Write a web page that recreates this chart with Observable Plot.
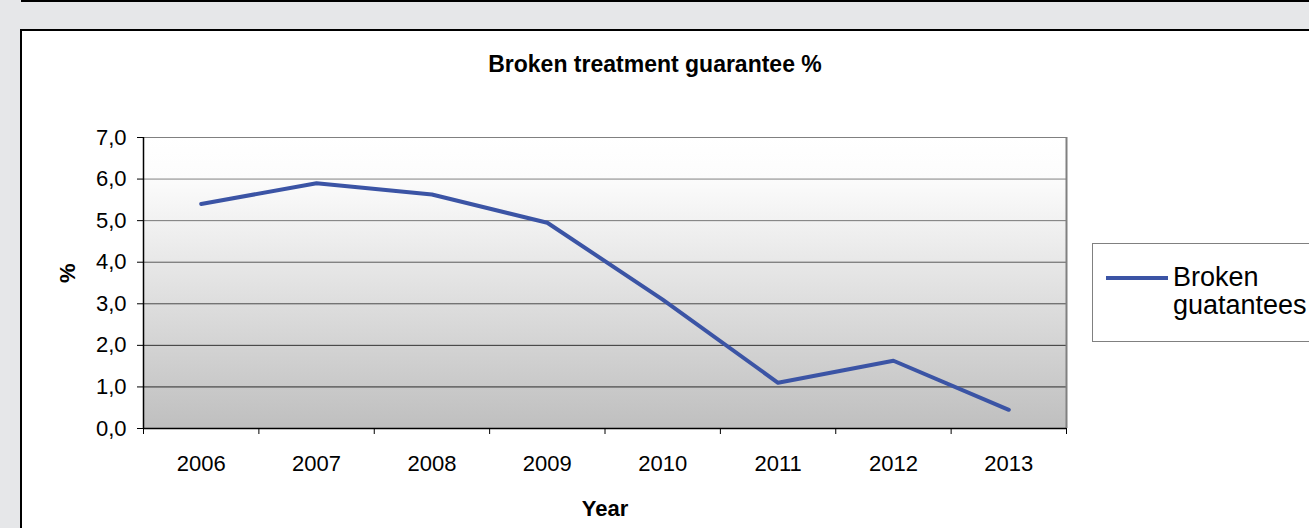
<!DOCTYPE html>
<html><head><meta charset="utf-8">
<script src="https://cdn.jsdelivr.net/npm/d3@7"></script>
<script src="https://cdn.jsdelivr.net/npm/@observablehq/plot@0.6"></script>
<style>
body{margin:0;background:#e6e7e9;width:1309px;height:528px;overflow:hidden;position:relative;font-family:"Liberation Sans",Arial,sans-serif;}
#topline{position:absolute;left:21px;top:0;width:1300px;height:2px;background:#000;}
#panel{position:absolute;left:20px;top:29px;width:1300px;height:520px;background:#fff;border-left:2px solid #000;border-top:2px solid #000;}
#chart{position:absolute;left:0;top:0;}
#legend{position:absolute;left:1092px;top:243px;width:240px;height:97px;border:1px solid #808080;background:#fff;}
#legend .sw{position:absolute;left:13px;top:31.5px;width:62px;height:4px;background:#3b54a5;}
#legend .lb{position:absolute;left:80px;top:19px;font-size:27px;line-height:28px;color:#000;white-space:nowrap;}
</style>
</head><body>
<svg width="0" height="0" style="position:absolute">
  <defs>
    <linearGradient id="bg" x1="0" y1="0" x2="0" y2="1">
      <stop offset="0%" stop-color="#ffffff"/>
      <stop offset="14%" stop-color="#fcfcfc"/>
      <stop offset="100%" stop-color="#bfbfbf"/>
    </linearGradient>
  </defs>
</svg>
<div id="topline"></div>
<div id="panel"></div>
<div id="chart"></div>
<div id="legend"><div class="sw"></div><div class="lb" id="legendText"></div></div>
<script>
const years = [2006, 2007, 2008, 2009, 2010, 2011, 2012, 2013];
const values = [5.4, 5.9, 5.63, 4.95, 3.1, 1.1, 1.63, 0.45];
const yTicks = [0, 1, 2, 3, 4, 5, 6, 7];
const titleText = "Broken treatment guarantee %";
const xLabel = "Year";
const yLabel = "%";
const seriesName = ["Broken", "guatantees"];

const data = years.map((year, i) => ({year, value: values[i]}));
const boundaries = [...years.map(y => y - 0.5), years[years.length - 1] + 0.5];
const gridColors = {1: "#2b2b2b", 2: "#333333", 3: "#4a4a4a", 4: "#5a5a5a", 5: "#777777", 6: "#808080", 7: "#808080"};
const font = '"Liberation Sans", Arial, sans-serif';

document.getElementById("legendText").innerHTML = seriesName.join("<br>");

const chart = Plot.plot({
  width: 1309, height: 528,
  marginLeft: 143, marginRight: 243, marginTop: 137, marginBottom: 100,
  style: {background: "transparent", fontFamily: font, color: "#000", overflow: "visible"},
  x: {type: "linear", domain: [boundaries[0], boundaries[boundaries.length - 1]]},
  y: {domain: [0, 7]},
  marks: [
    Plot.frame({fill: "url(#bg)", stroke: "none"}),
    Plot.ruleY(yTicks.filter(d => d > 0), {y: d => d, stroke: d => gridColors[d], strokeWidth: 1}),
    Plot.ruleX([boundaries[boundaries.length - 1]], {x: d => d, y1: 0, y2: 7, stroke: "#808080", strokeWidth: 2}),
    Plot.ruleY([0], {y: d => d, stroke: "#000", strokeWidth: 1.5}),
    Plot.ruleX([boundaries[0]], {x: d => d, y1: 0, y2: 7, stroke: "#000", strokeWidth: 1.5}),
    Plot.axisY({ticks: yTicks, tickSize: 6, tickPadding: 11, tickFormat: d => d.toFixed(1).replace(".", ","), fontSize: 22, label: null, stroke: "#000"}),
    Plot.axisX({ticks: boundaries, tickSize: 6, tickFormat: () => "", label: null, stroke: "#000"}),
    Plot.axisX({ticks: years, tickSize: 0, tickPadding: 27, tickFormat: d => String(d), fontSize: 22, label: null}),
    Plot.lineY(data, {x: "year", y: "value", stroke: "#3b54a5", strokeWidth: 4}),
    Plot.text([titleText], {text: d => d, frameAnchor: "top", dx: 50, dy: -66, lineAnchor: "bottom", fontSize: 23, fontWeight: "bold"}),
    Plot.text([xLabel], {text: d => d, frameAnchor: "bottom", dy: 87, lineAnchor: "bottom", fontSize: 22, fontWeight: "bold"}),
    Plot.text([yLabel], {text: d => d, frameAnchor: "left", dx: -76, rotate: -90, fontSize: 22, fontWeight: "bold"})
  ]
});
document.getElementById("chart").appendChild(chart);
</script>
</body></html>
